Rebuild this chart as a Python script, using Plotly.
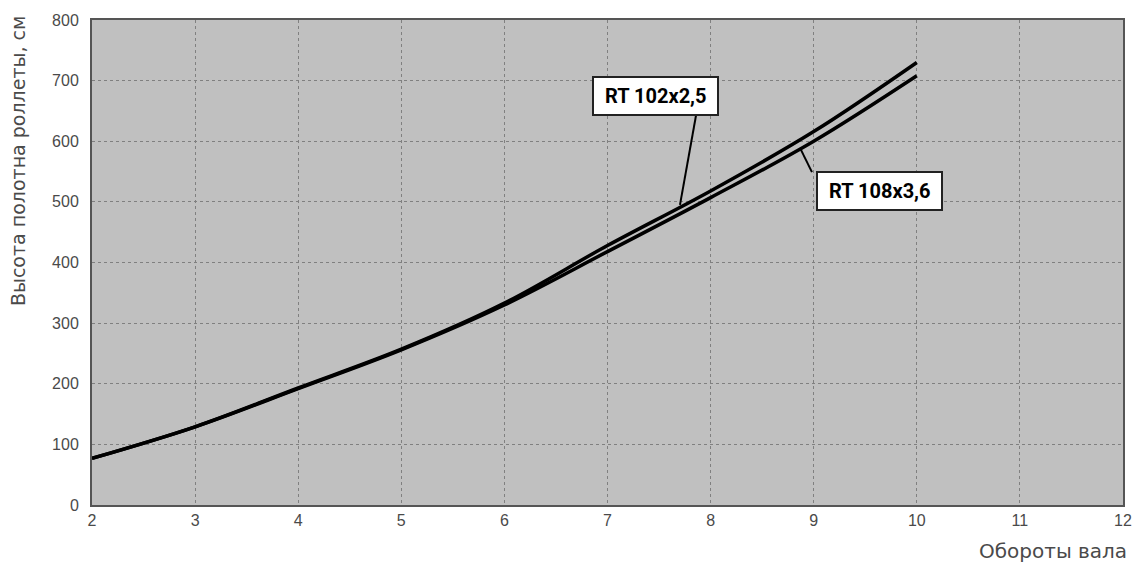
import plotly.graph_objects as go

turns = [2, 3, 4, 5, 6, 7, 8, 9, 10]
rt102 = [77, 129, 193, 257, 333, 428, 518, 616, 730]
rt108 = [77, 129, 192, 256, 330, 418, 507, 600, 708]
x_ticks = [2, 3, 4, 5, 6, 7, 8, 9, 10, 11, 12]
y_ticks = [0, 100, 200, 300, 400, 500, 600, 700, 800]

label102 = "RT 102x2,5"
label108 = "RT 108x3,6"

fig = go.Figure()
fig.add_trace(go.Scatter(x=turns, y=rt102, mode="lines", line=dict(color="black", width=3.5, shape="spline"),
                         name=label102, showlegend=False))
fig.add_trace(go.Scatter(x=turns, y=rt108, mode="lines", line=dict(color="black", width=3.5, shape="spline"),
                         name=label108, showlegend=False))

axfont = dict(family="Liberation Sans, Arial, sans-serif", size=16, color="#4a4a4a")

fig.update_layout(
    width=1136, height=574,
    margin=dict(l=92, r=13, t=20, b=69),
    paper_bgcolor="white",
    plot_bgcolor="#c0c0c0",
    font=axfont,
    xaxis=dict(range=[2, 12], tickvals=x_ticks, showgrid=True, gridcolor="#808080", griddash="dot", gridwidth=1,
               showline=True, linecolor="#555", linewidth=2, mirror=True, zeroline=False, automargin=False,
               ticks="", tickfont=axfont),
    yaxis=dict(range=[0, 800], tickvals=y_ticks, showgrid=True, gridcolor="#808080", griddash="dot", gridwidth=1,
               showline=True, linecolor="#555", linewidth=2, mirror=True, zeroline=False, automargin=False,
               ticks="", tickfont=axfont, ticklabelstandoff=8),
)

# Axis titles
fig.add_annotation(text="Высота полотна роллеты, см", xref="paper", yref="paper", x=-0.0718, y=0.709,
                   xanchor="center", yanchor="middle", textangle=-90, showarrow=False,
                   font=dict(family="DejaVu Sans, sans-serif", size=19, color="#4a4a4a"))
fig.add_annotation(text="Обороты вала", xref="paper", yref="paper", x=1.006, y=-0.095,
                   xanchor="right", yanchor="middle", showarrow=False,
                   font=dict(family="DejaVu Sans, sans-serif", size=20, color="#4a4a4a"))

# Callout labels
boxfont = dict(family="Roboto, Liberation Sans, sans-serif", size=20, color="black")
fig.add_annotation(text="&nbsp;<b>%s</b>&nbsp;" % label102, x=7.47, y=675, xref="x", yref="y", showarrow=False,
                   bgcolor="white", bordercolor="#222", borderwidth=2, borderpad=6, font=boxfont)
fig.add_annotation(text="&nbsp;<b>%s</b>&nbsp;" % label108, x=9.643, y=518, xref="x", yref="y", showarrow=False,
                   bgcolor="white", bordercolor="#222", borderwidth=2, borderpad=6, font=boxfont)

# Pointer lines
fig.add_shape(type="line", x0=7.858, y0=642, x1=7.703, y1=495, xref="x", yref="y", line=dict(color="black", width=2))
fig.add_shape(type="line", x0=8.983, y0=549, x1=8.867, y1=589, xref="x", yref="y", line=dict(color="black", width=2))

fig.write_html("out.html", config={"displayModeBar": False},
               post_script="document.body.style.margin='0';document.body.style.overflow='hidden';")
